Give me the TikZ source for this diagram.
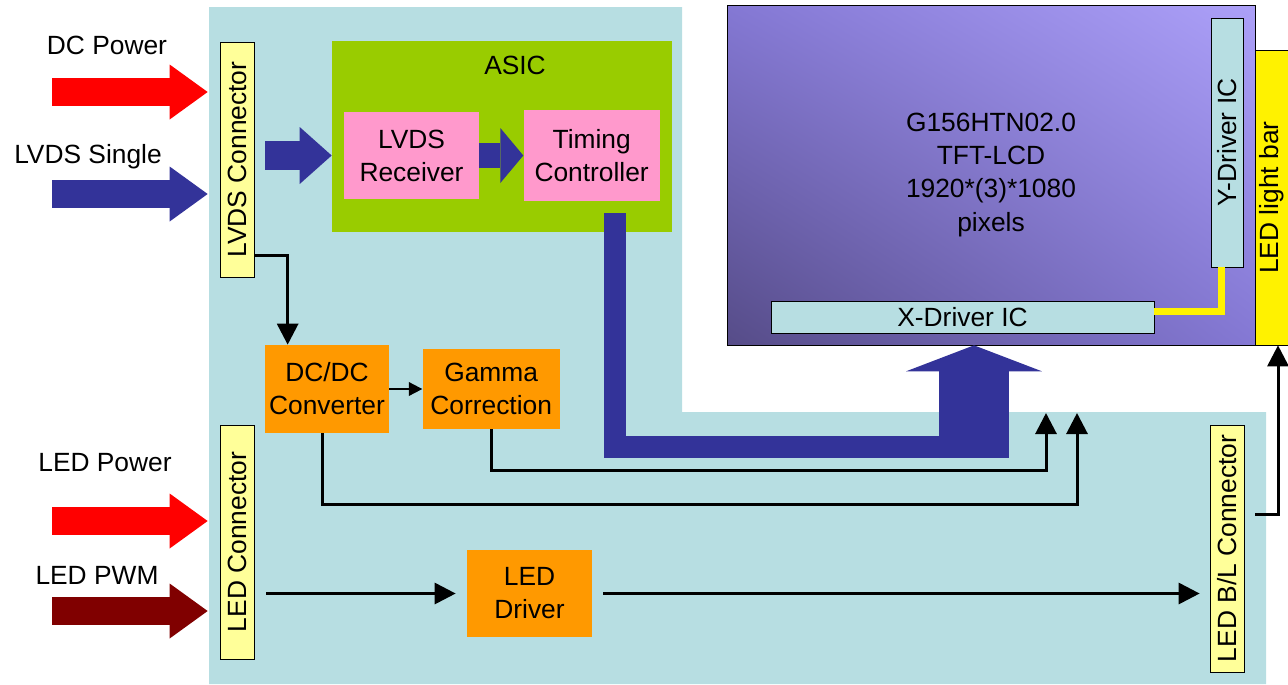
\documentclass[tikz,border=0pt]{standalone}
\usepackage{fontspec}
\setmainfont{Liberation Sans}
\usepackage{graphicx}
\usetikzlibrary{positioning,calc,arrows.meta,shadings}
\definecolor{boardblue}{RGB}{183,222,226}
\definecolor{asicgreen}{RGB}{153,204,0}
\definecolor{chippink}{RGB}{255,153,204}
\definecolor{blockorange}{RGB}{255,153,0}
\definecolor{connyellow}{RGB}{255,255,153}
\definecolor{busblue}{RGB}{51,51,153}
\definecolor{pwmred}{RGB}{128,0,0}
\definecolor{lcdlight}{RGB}{172,160,248}
\definecolor{lcdmid}{RGB}{132,120,212}
\definecolor{lcddark}{RGB}{86,76,136}

\begin{document}
\begin{tikzpicture}[x=0.02cm,y=-0.02cm,every node/.style={font=\fontsize{15}{18.8}\selectfont, inner sep=0pt, align=center},block/.style={rectangle, fill=blockorange},chip/.style={rectangle, fill=chippink},conn/.style={draw, rectangle, fill=connyellow, minimum width=0.68cm},drv/.style={draw, rectangle, fill=boardblue},fat/.style={line width=0.57cm, -{Triangle[width=1.1cm,length=0.76cm,line width=0pt]}},sig/.style={line width=0.06cm, -{Triangle[width=0.42cm,length=0.42cm]}}]
    \useasboundingbox (0,0) rectangle (1288,684);
    % board
    \fill[boardblue] (209,7) -- (682,7) -- (682,412) -- (1266,412) -- (1266,684) -- (209,684) -- cycle;
    % panel
    \node[draw, minimum width=10.56cm, minimum height=6.8cm, lower left=lcddark, upper right=lcdlight, upper left=lcdmid, lower right=lcdmid] (lcd) at (991,175) {G156HTN02.0\\TFT-LCD\\1920*(3)*1080\\pixels};
    \node[drv, minimum width=0.64cm, minimum height=4.98cm] (ydrv) at (1227,142.5) {\rotatebox{90}{Y-Driver IC}};
    \node[drv, minimum width=7.66cm, minimum height=0.64cm] (xdrv) at (962.5,317) {X-Driver IC};
    \node[draw, fill=yellow, minimum width=0.66cm, minimum height=5.9cm] (ledbar) at (1271.5,197.5) {\rotatebox{90}{LED light bar}};
    % blocks
    \node[fill=asicgreen, minimum width=6.8cm, minimum height=3.82cm] (asic) at (502,136.5) {};
    \node (asiclbl) at (515,65) {ASIC};
    \node[chip, minimum width=2.7cm, minimum height=1.74cm] (rcv) at (411.5,155.5) {LVDS\\Receiver};
    \node[chip, minimum width=2.72cm, minimum height=1.82cm, right=0.88cm of rcv] (tcon) {Timing\\Controller};
    \node[conn, minimum height=4.7cm] (lvdscon) at (237,159.5) {\rotatebox{90}{LVDS Connector}};
    \node[conn, minimum height=4.68cm] (ledcon) at (237,542) {\rotatebox{90}{LED Connector}};
    \node[conn, minimum height=4.94cm] (blcon) at (1227,548.5) {\rotatebox{90}{LED B/L Connector}};
    \node[block, minimum width=2.48cm, minimum height=1.76cm] (dcdc) at (327,389) {DC/DC\\Converter};
    \node[block, minimum width=2.74cm, minimum height=1.6cm, right=0.66cm of dcdc] (gamma) {Gamma\\Correction};
    \node[block, minimum width=2.5cm, minimum height=1.74cm] (leddrv) at (529.5,593.5) {LED\\Driver};
    % inputs
    \node (dcpwr) at (107,45) {DC Power};
    \node (lvdsin) at (88,157) {LVDS Single};
    \node (ledpwr) at (105,463) {LED Power};
    \node (ledpwm) at (97,575) {LED PWM};
    \coordinate (dctail) at (52,92);
    \coordinate (lvdstail) at (52,194);
    \coordinate (pwrtail) at (52,521);
    \coordinate (pwmtail) at (52,611);
    \draw[fat, red, shorten >=0.24cm] (dctail) -- (dctail -| lvdscon.west);
    \draw[fat, busblue, shorten >=0.24cm] (lvdstail) -- (lvdstail -| lvdscon.west);
    \draw[fat, red, shorten >=0.24cm] (pwrtail) -- (pwrtail -| ledcon.west);
    \draw[fat, pwmred, shorten >=0.24cm] (pwmtail) -- (pwmtail -| ledcon.west);
    % data path
    \draw[busblue, line width=0.58cm, shorten <=0.22cm, -{Triangle[width=1.14cm,length=0.64cm,line width=0pt]}] (lvdscon.east |- rcv.west) -- (asic.west |- rcv.west);
    \draw[busblue, line width=0.5cm, -{Triangle[width=1.1cm,length=0.46cm,line width=0pt]}] (rcv.east) -- (rcv.east -| tcon.west);
    \coordinate (busend) at (974,447);
    \coordinate (busup) at (974,458);
    \draw[busblue, line width=0.45cm, line join=miter, shorten <=0.24cm] ([xshift=0.47cm]tcon.south) |- (busend);
    \draw[busblue, line width=1.4cm, -{Triangle[width=2.72cm,length=0.52cm,line width=0pt]}] (busup) -- (busup |- lcd.south);
    \draw[yellow, line width=0.14cm] ([yshift=0.12cm]xdrv.east) -| ([xshift=-0.12cm]ydrv.south);
    % power and control
    \coordinate (gin) at (1046,413);
    \coordinate (din) at (1077,413);
    \draw[sig] ($(lvdscon.south east)+(0,-22)$) -| ($(dcdc.north west)+(23,0)$);
    \draw[line width=0.04cm, -{Triangle[width=0.27cm,length=0.27cm]}] (dcdc.east) -- (dcdc.east -| gamma.west);
    \draw[sig] (gamma.south) -- ++(0,41) -| (gin);
    \draw[sig] ([xshift=-0.1cm]dcdc.south) -- ++(0,71) -| (din);
    \draw[sig, shorten <=0.24cm, shorten >=0.22cm] (leddrv.west -| ledcon.east) -- (leddrv.west);
    \draw[sig, shorten <=0.22cm, shorten >=0.2cm] (leddrv.east) -- (leddrv.east -| blcon.west);
    \draw[sig, shorten <=0.22cm] ($(blcon.east)+(0,-34)$) -| ([xshift=0.13cm]ledbar.south);
\end{tikzpicture}
\end{document}
